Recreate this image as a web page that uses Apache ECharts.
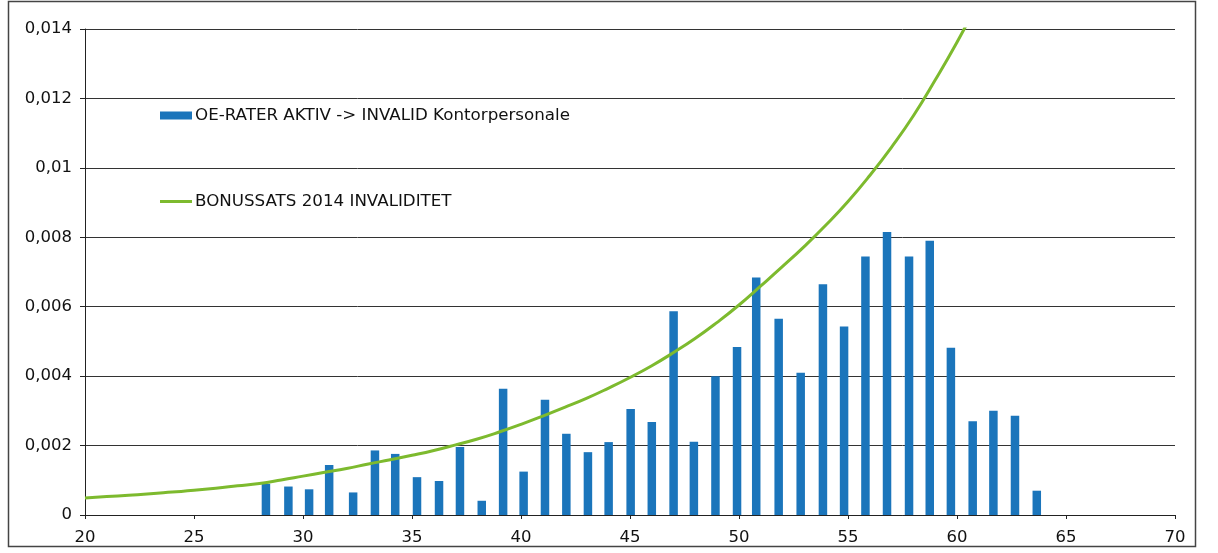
<!DOCTYPE html>
<html>
<head>
<meta charset="utf-8">
<script src="https://cdn.jsdelivr.net/npm/echarts@6/dist/echarts.min.js"></script>
<style>
  html, body { margin: 0; padding: 0; background: #fff; }
  #chart { width: 1218px; height: 553px; }
</style>
</head>
<body>
<div id="chart"></div>
<script>
// OE-rater (søjler): alder (x-position aflæst) og rate
var barAges = [28.3, 29.33, 30.28, 31.2, 32.3, 33.3, 34.23, 35.23, 36.24, 37.2, 38.2, 39.18,
  40.12, 41.1, 42.08, 43.07, 44.02, 45.03, 46.0, 47.0, 47.93, 48.92, 49.91, 50.79, 51.82,
  52.83, 53.85, 54.82, 55.8, 56.79, 57.8, 58.75, 59.72, 60.72, 61.67, 62.66, 63.66];
var barRates = [0.0009, 0.00082, 0.00074, 0.00144, 0.00065, 0.00186, 0.00176, 0.00109, 0.00098,
  0.00196, 0.00041, 0.00364, 0.00125, 0.00332, 0.00234, 0.00181, 0.0021, 0.00305, 0.00268,
  0.00587, 0.00211, 0.004, 0.00484, 0.00684, 0.00565, 0.0041, 0.00665, 0.00543, 0.00745,
  0.00815, 0.00745, 0.0079, 0.00482, 0.0027, 0.003, 0.00286, 0.0007];

// bonussats 2014 invaliditet (kurve)
var lineAges = [20, 21, 22, 23, 24, 25, 26, 27, 28, 29, 30, 31, 32, 33, 34, 35, 36, 37, 38, 39, 40,
  41, 42, 43, 44, 45, 46, 47, 48, 49, 50, 51, 52, 53, 54, 55, 56, 57, 58, 59, 60, 61];
var lineRates = [0.00049, 0.00053, 0.00057, 0.00061, 0.00066, 0.00071, 0.00077, 0.00084, 0.00091,
  0.00101, 0.00112, 0.00123, 0.00134, 0.00147, 0.00159, 0.00172, 0.00186, 0.00202, 0.00219,
  0.00239, 0.00261, 0.00285, 0.0031, 0.00336, 0.00365, 0.00396, 0.0043, 0.00468, 0.00509,
  0.00555, 0.00605, 0.0066, 0.00716, 0.00774, 0.00836, 0.00903, 0.00978, 0.0106, 0.0115,
  0.01253, 0.01362, 0.0148];

var barName = 'OE-RATER AKTIV -> INVALID Kontorpersonale';
var lineName = 'BONUSSATS 2014 INVALIDITET';

var font = 'DejaVu Sans';
var chart = echarts.init(document.getElementById('chart'));

var barData = barAges.map(function (a, i) { return [a, barRates[i]]; });
var lineData = lineAges.map(function (a, i) { return [a, lineRates[i]]; });

chart.setOption({
  animation: false,
  backgroundColor: '#fff',
  textStyle: { fontFamily: font },
  grid: { left: 85, right: 43, top: 29, bottom: 38 },
  legend: [
    {
      data: [barName],
      left: 160, top: 107, padding: 0,
      itemWidth: 32, itemHeight: 8, itemGap: 0,
      icon: 'rect',
      textStyle: { fontFamily: font, fontSize: 16.7, color: '#111', padding: [0, 0, 0, -2] }
    },
    {
      data: [lineName],
      left: 160, top: 193, padding: 0,
      itemWidth: 32, itemHeight: 3, itemGap: 0,
      icon: 'rect',
      textStyle: { fontFamily: font, fontSize: 16.7, color: '#111', padding: [0, 0, 0, -2] }
    }
  ],
  xAxis: {
    type: 'value',
    min: 20, max: 70, interval: 5,
    axisLine: { lineStyle: { color: '#222', width: 1 } },
    axisTick: { show: true, length: 4, lineStyle: { color: '#222' } },
    axisLabel: { fontSize: 16.5, color: '#111', margin: 14, fontFamily: font },
    splitLine: { show: false }
  },
  yAxis: {
    type: 'value',
    min: 0, max: 0.014, interval: 0.002,
    axisLine: { show: true, lineStyle: { color: '#222', width: 1 } },
    axisTick: { show: true, length: 5, lineStyle: { color: '#222' } },
    axisLabel: {
      fontSize: 16.5, color: '#111', margin: 13, fontFamily: font,
      formatter: function (v) { return String(+v.toFixed(4)).replace('.', ','); }
    },
    splitLine: { show: true, lineStyle: { color: '#333', width: 1 } }
  },
  series: [
    {
      name: barName,
      type: 'bar',
      data: barData,
      barWidth: 8.5,
      itemStyle: { color: '#1B75BB' }
    },
    {
      name: lineName,
      type: 'line',
      data: lineData,
      smooth: true,
      symbol: 'none',
      clip: true,
      itemStyle: { color: '#7DBA2E' },
      lineStyle: { color: '#7DBA2E', width: 3 }
    }
  ],
  graphic: [
    {
      type: 'rect',
      shape: { x: 8.5, y: 1.5, width: 1187, height: 545 },
      style: { fill: 'none', stroke: '#444', lineWidth: 1.5 },
      silent: true
    }
  ]
});
</script>
</body>
</html>
